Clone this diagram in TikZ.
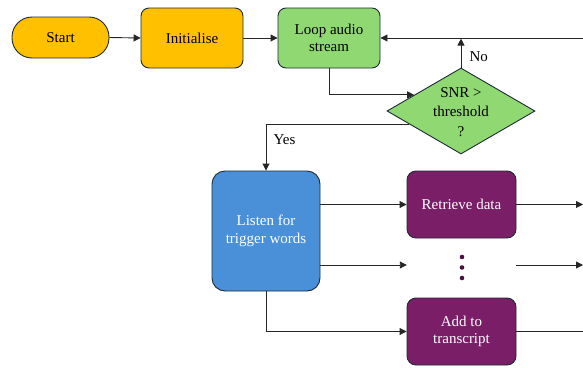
\documentclass[tikz,border=0pt]{standalone}
\usepackage{fontspec}
\setmainfont{Liberation Serif}
\setsansfont{Liberation Serif}
\usetikzlibrary{shapes.geometric,arrows.meta}
\definecolor{orangeF}{HTML}{FFC000}
\definecolor{greenF}{HTML}{8FD872}
\definecolor{blueF}{HTML}{4A90D9}
\definecolor{purpleF}{HTML}{7A1E68}
\definecolor{edgeC}{HTML}{1E2A36}
\begin{document}
\begin{tikzpicture}[x=1pt,y=-1pt,
  font=\rmfamily\fontsize{15}{17.5}\selectfont,
  box/.style={draw=edgeC, line width=0.9pt, rounded corners=8pt, align=center, inner sep=0pt},
  conn/.style={line width=0.9pt, draw=black!85},
  arr/.style={conn, -{Triangle[length=7pt,width=7pt]}},
  dot/.style={circle, fill=purpleF!60!black, inner sep=0pt, minimum size=4.6pt}]
\useasboundingbox (0,0) rectangle (583,367);

\node[box, fill=orangeF, rounded corners=20pt, minimum width=97pt, minimum height=41pt] (start) at (60.5,37.5) {Start};
\node[box, fill=orangeF, minimum width=102pt, minimum height=60pt] (init) at (192,38) {Initialise};
\node[box, fill=greenF, minimum width=102pt, minimum height=60pt] (loop) at (329,38) {Loop audio\\stream};
\node[diamond, draw=edgeC, line width=0.9pt, fill=greenF, inner sep=0pt, minimum width=148pt, minimum height=86pt] (dec) at (461,111) {};
\node[align=center, font=\rmfamily\fontsize{15}{19.5}\selectfont] (dectext) at (461,112) {SNR >\\threshold\\?};
\node[box, fill=blueF, text=white, rounded corners=13pt, minimum width=108pt, minimum height=120pt] (listen) at (266,231) {Listen for\\trigger words};
\node[box, fill=purpleF, text=white, rounded corners=9pt, minimum width=109pt, minimum height=67pt] (retr) at (461.5,204.5) {Retrieve data};
\node[box, fill=purpleF, text=white, rounded corners=9pt, minimum width=109pt, minimum height=67pt] (add) at (461.5,331.5) {Add to\\transcript};
\node[minimum width=109pt, minimum height=30pt, inner sep=0pt] (dots) at (461.5,265) {};
\node[dot] (d1) at (462,257) {};
\node[dot] (d2) at (462,267.5) {};
\node[dot] (d3) at (462,278) {};

\coordinate (fbR) at (583,38);
\coordinate (outA) at (583,204.5);
\coordinate (outB) at (583,265);
\coordinate (outC) at (583,331.5);

\draw[arr] (start.east) -- (init.west);
\draw[arr] (init.west -| init.east) -- (loop.west);
\draw[arr] (fbR) -- (loop.east);
\draw[arr] (dec.north) -- ++(0,-29);
\node[anchor=west] (no) at (466,57) {No};
\draw[arr] (loop.south) |- (dec.161);
\draw[arr] (dec.194) -| (listen.north);
\node[anchor=west] (yes) at (270,139.5) {Yes};
\draw[arr] (retr.west -| listen.east) -- (retr.west);
\draw[arr] (dots.west -| listen.east) -- (dots.west);
\draw[arr] (listen.south) |- (add.west);
\draw[arr] (retr.east) -- (outA);
\draw[arr] (dots.east) -- (outB);
\draw[conn] (add.east) -- (outC);
\end{tikzpicture}
\end{document}
